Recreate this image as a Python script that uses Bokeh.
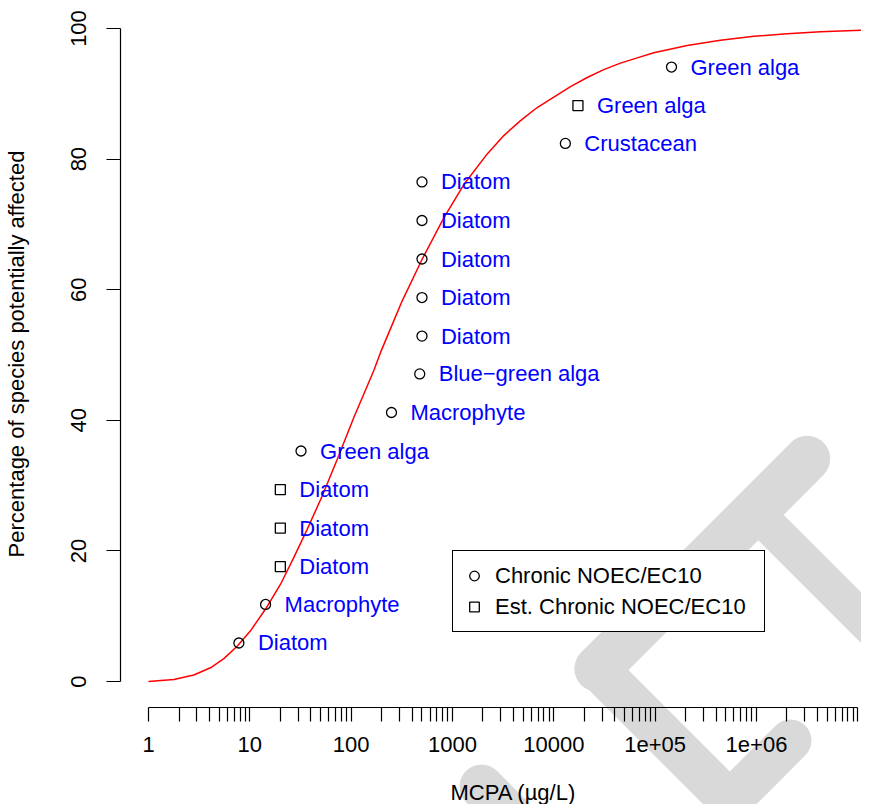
import json
from bokeh.plotting import figure
from bokeh.models import (Range1d, FixedTicker, CustomJSTickFormatter, Legend,
                          LegendItem, ColumnDataSource)
from bokeh.core.properties import value
from bokeh.embed import file_html
from bokeh.resources import INLINE

# ---------------- data ----------------
species = ["Diatom", "Macrophyte", "Diatom", "Diatom", "Diatom", "Green alga",
           "Macrophyte", "Blue\u2212green alga", "Diatom", "Diatom", "Diatom",
           "Diatom", "Diatom", "Crustacean", "Green alga", "Green alga"]
conc = [7.8, 14.3, 20, 20, 20, 32, 250, 475, 500, 500, 500, 500, 500,
        13000, 17300, 145000]
pct = [5.9, 11.8, 17.6, 23.5, 29.4, 35.3, 41.2, 47.1, 52.9, 58.8, 64.7,
       70.6, 76.5, 82.4, 88.2, 94.1]
endpoint = ["Chronic", "Chronic", "Est", "Est", "Est", "Chronic", "Chronic",
            "Chronic", "Chronic", "Chronic", "Chronic", "Chronic", "Chronic",
            "Chronic", "Est", "Chronic"]

curve_x = [1.0, 1.78, 2.8, 4.09, 5.54, 7.5, 10.2, 14.3, 20.1, 27.2, 36.8,
           51.8, 72.8, 106, 167, 195, 244, 319, 503, 821, 1294, 2203, 3210,
           4693, 6850, 10000, 14620, 21340, 31100, 45500, 66500, 97000,
           207000, 441000, 942000, 2.01e6, 4.28e6, 1.3e7]
curve_y = [0.0, 0.3, 1.0, 2.1, 3.5, 5.4, 7.8, 11.1, 14.9, 19.0, 23.3,
           28.4, 34.0, 40.4, 47.6, 50.4, 54.0, 58.3, 64.7, 71.0, 76.1, 80.8,
           83.6, 85.9, 87.9, 89.5, 91.1, 92.5, 93.7, 94.7, 95.5, 96.3,
           97.4, 98.2, 98.8, 99.2, 99.5, 99.8]

x_tick_values = [1, 10, 100, 1000, 10000, 100000, 1000000, 10000000]
x_tick_labels = ["1", "10", "100", "1000", "10000", "1e+05", "1e+06", ""]
y_tick_values = [0, 20, 40, 60, 80, 100]

x_title = "MCPA (\u00b5g/L)"
y_title = "Percentage of species potentially affected"
legend_labels = ["Chronic NOEC/EC10", "Est. Chronic NOEC/EC10"]

# ---------------- figure ----------------
FONT = "Liberation Sans"
FS = "22px"

p = figure(width=861, height=804, x_axis_type="log",
           x_range=Range1d(0.5293, 1.0875e7), y_range=Range1d(-3.98, 104.29),
           output_backend="svg", toolbar_location=None,
           min_border_left=120, min_border_right=0, min_border_top=0,
           min_border_bottom=97)
p.outline_line_color = None
p.grid.visible = False
p.background_fill_color = "white"
p.border_fill_color = "white"


def px2d(px, py):
    """reference-pixel position -> data position (decoration placement only)"""
    return 10 ** ((px - 148.0) / 101.33), (681.0 - py) / 6.53


# watermark (drawn under the axes, not clipped to the frame)
def wm_line(pts, w):
    xs, ys = zip(*[px2d(a, b) for a, b in pts])
    r = p.line(list(xs), list(ys), line_color="#d9d9d9", line_width=w,
               line_cap="round", line_join="round")
    r.level = "guide"
    return r


wm_line([(806.7, 458.3), (596.8, 668.2)], 46)
wm_line([(596.8, 668.2), (729.3, 800.7), (790.0, 740.0)], 42)
wm_line([(754.2, 510.8), (905.0, 661.6)], 36)
wm_line([(481.0, 786.0), (545.0, 850.0)], 44)

# x-axis title, centred as in the reference (same unclipped level)
tx, ty = px2d(513, 792)
t_title = p.text(x=[tx], y=[ty], text=[x_title], text_align="center",
                 text_baseline="middle", text_color="black",
                 text_font=value(FONT), text_font_size=FS)
t_title.level = "guide"

# fitted curve
p.line(curve_x, curve_y, line_color="red", line_width=1.5)

# points
src_c = ColumnDataSource(dict(x=[c for c, e in zip(conc, endpoint) if e == "Chronic"],
                              y=[v for v, e in zip(pct, endpoint) if e == "Chronic"]))
src_s = ColumnDataSource(dict(x=[c for c, e in zip(conc, endpoint) if e == "Est"],
                              y=[v for v, e in zip(pct, endpoint) if e == "Est"]))
r_c = p.scatter("x", "y", source=src_c, marker="circle", size=10,
                fill_alpha=0, line_color="black", line_width=1.3)
r_s = p.scatter("x", "y", source=src_s, marker="square", size=10,
                fill_alpha=0, line_color="black", line_width=1.3)

# species labels
p.text(x=conc, y=pct, text=species, x_offset=19, text_baseline="middle",
       text_align="left", text_color="blue", text_font=value(FONT),
       text_font_size=FS)

# axes
xa = p.xaxis[0]
xa.ticker = FixedTicker(ticks=x_tick_values,
                        minor_ticks=[m * 10 ** k for k in range(7) for m in range(2, 10)])
label_map = json.dumps({str(v): l for v, l in zip(x_tick_values, x_tick_labels)})
xa.formatter = CustomJSTickFormatter(
    code="const m = %s; const k = String(Math.round(tick)); return (k in m) ? m[k] : '';" % label_map)
xa.bounds = (1, 1e7)

ya = p.yaxis[0]
ya.ticker = FixedTicker(ticks=y_tick_values, minor_ticks=[])
ya.bounds = (0, 100)
ya.axis_label = y_title
ya.major_label_orientation = "vertical"

for ax in (xa, ya):
    ax.level = "annotation"
    ax.axis_line_color = "black"
    ax.axis_line_width = 1.2
    ax.major_tick_line_color = "black"
    ax.major_tick_line_width = 1.2
    ax.minor_tick_line_color = "black"
    ax.minor_tick_line_width = 1.2
    ax.major_tick_in = 0
    ax.major_tick_out = 14
    ax.minor_tick_in = 0
    ax.minor_tick_out = 14
    ax.major_label_text_font = FONT
    ax.major_label_text_font_size = FS
    ax.major_label_text_color = "black"
    ax.axis_label_text_font = FONT
    ax.axis_label_text_font_size = FS
    ax.axis_label_text_font_style = "normal"
    ax.axis_label_text_color = "black"

xa.major_label_standoff = 15
ya.major_label_standoff = 20
ya.axis_label_standoff = 40

# legend
legend = Legend(items=[LegendItem(label=legend_labels[0], renderers=[r_c]),
                       LegendItem(label=legend_labels[1], renderers=[r_s])],
                location=(332, 75), margin=0, padding=9, spacing=0,
                glyph_width=24, glyph_height=31, label_height=31,
                label_width=260, label_standoff=9,
                label_text_font=FONT, label_text_font_size=FS,
                label_text_color="black",
                border_line_color="black", border_line_width=1.2,
                border_line_alpha=1.0,
                background_fill_color="white", background_fill_alpha=1.0)
p.add_layout(legend, "center")

open("out.html", "w").write(file_html(p, INLINE))
